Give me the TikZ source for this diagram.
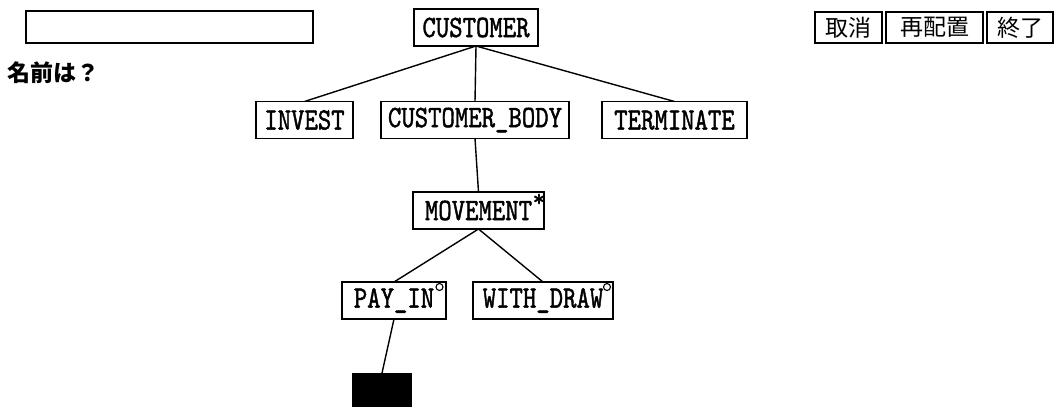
\documentclass[tikz,border=0pt]{standalone}
\usepackage{fontspec}
\usepackage{graphicx}
\newfontfamily\jp{Noto Sans CJK JP}
\newfontfamily\tw{lmmono10-regular.otf}[FakeBold=1.6]
% condensed-looking terminal lettering: stretched vertically
\newcommand\termtext[1]{\scalebox{1}[1.22]{#1}}
\begin{document}
\begin{tikzpicture}[x=1pt,y=-1pt,
  every node/.style={inner sep=0pt, outer sep=0pt},
  tnode/.style={draw, line width=1.5pt, minimum height=37pt, inner xsep=7pt,
    font=\tw\fontsize{25.5}{25.5}\selectfont},
  btn/.style={draw, line width=1.5pt, minimum height=31pt, inner xsep=6pt,
    font=\jp\fontsize{23}{23}\selectfont},
  link/.style={line width=1.4pt},
  mark0/.style={draw, circle, line width=1.1pt, minimum size=7pt}]
\useasboundingbox (0,0) rectangle (1059,407);

% name entry field and prompt
\node[draw, line width=1.5pt, minimum width=287pt, minimum height=32pt, anchor=north west] (field) at (26,11) {};
\node[anchor=west, font=\jp\bfseries\fontsize{23}{23}\selectfont] (prompt) at (7,73) {名前は？};

% command buttons
\node[btn, minimum width=67pt, anchor=north west] (cancel) at (815,12) {取消};
\node[btn, minimum width=97pt, anchor=north west] (rearr) at (886,12) {再配置};
\node[btn, minimum width=66pt, anchor=north west] (quit) at (987,12) {終了};

% structure tree
\node[tnode, minimum width=124pt] (cust) at (476,27.5) {\termtext{CUSTOMER}};
\node[tnode, minimum width=97pt] (inv) at (304.5,120) {\termtext{INVEST}};
\node[tnode, minimum width=186pt] (body) at (475,120) {\termtext{CUSTOMER\_BODY}};
\node[tnode, minimum width=145pt] (term) at (674.5,120) {\termtext{TERMINATE}};
\node[tnode, minimum width=131pt] (mov) at (478.5,210.5) {\termtext{MOVEMENT}};
\node[tnode, minimum width=104pt] (pay) at (394,300.5) {\termtext{PAY\_IN}};
\node[tnode, minimum width=140pt] (wd) at (543,300.5) {\termtext{WITH\_DRAW}};
\node[fill=black, minimum width=60pt, minimum height=34pt, anchor=north west] (blk) at (352,373) {};

% iteration and selection markers
\node[font=\tw\fontsize{24}{24}\selectfont] (star) at (539,200) {*};
\node[mark0] (selA) at (439.5,287) {};
\node[mark0] (selB) at (607,287) {};

% connectors
\draw[link] (cust.south) -- (inv.north);
\draw[link] (cust.south) -- (body.north);
\draw[link] (cust.south) -- (term.north);
\draw[link] (body.south) -- (mov.north);
\draw[link] (mov.south) -- (pay.north);
\draw[link] (mov.south) -- (wd.north);
\draw[link] (pay.south) -- (blk.north);
\end{tikzpicture}
\end{document}
